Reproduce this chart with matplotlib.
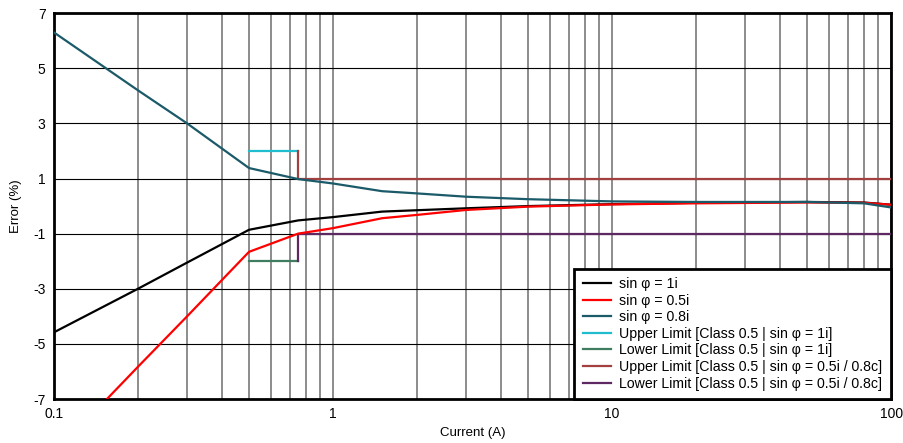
import numpy as np
import matplotlib.pyplot as plt
from matplotlib.ticker import FixedLocator, NullFormatter

plt.rcParams['font.family'] = ['Liberation Sans', 'DejaVu Sans']
plt.rcParams['axes.unicode_minus'] = False

# current points (A)
current = [0.1, 0.2, 0.3, 0.5, 0.75, 1, 1.5, 2, 3, 5, 10, 20, 50, 80, 100]

# error (%) per series
err_1i = [-4.58, -3.0, -2.05, -0.86, -0.52, -0.40, -0.2, -0.15, -0.08, 0.0, 0.07, 0.12, 0.15, 0.13, 0.05]
err_05i = [-9.0, -5.83, -4.0, -1.66, -1.0, -0.8, -0.44, -0.32, -0.14, -0.02, 0.06, 0.1, 0.13, 0.12, 0.05]
err_08i = [6.3, 4.2, 3.0, 1.38, 0.98, 0.82, 0.54, 0.46, 0.34, 0.25, 0.17, 0.15, 0.15, 0.1, -0.05]

# limit lines
up1_x, up1_y = [0.5, 0.75], [2, 2]
lo1_x, lo1_y = [0.5, 0.75], [-2, -2]
up2_x, up2_y = [0.75, 0.75, 100], [2, 1, 1]
lo2_x, lo2_y = [0.75, 0.75, 100], [-2, -1, -1]

fig = plt.figure(figsize=(9.04, 4.43), dpi=100)
ax = fig.add_axes([0.0597, 0.0993, 0.926, 0.871])

lw = 1.6
ax.plot(current, err_1i, color='black', lw=lw, label='sin φ = 1i', zorder=5)
ax.plot(current, err_05i, color='#ff0000', lw=lw, label='sin φ = 0.5i', zorder=5)
ax.plot(current, err_08i, color='#1b5a69', lw=lw, label='sin φ = 0.8i', zorder=5)
ax.plot(up1_x, up1_y, color='#1fbdcd', lw=lw, label='Upper Limit [Class 0.5 | sin φ = 1i]', zorder=4)
ax.plot(lo1_x, lo1_y, color='#3f7d5e', lw=lw, label='Lower Limit [Class 0.5 | sin φ = 1i]', zorder=4)
ax.plot(up2_x, up2_y, color='#a3403f', lw=lw, label='Upper Limit [Class 0.5 | sin φ = 0.5i / 0.8c]', zorder=4)
ax.plot(lo2_x, lo2_y, color='#5e2862', lw=lw, label='Lower Limit [Class 0.5 | sin φ = 0.5i / 0.8c]', zorder=4)

ax.set_xscale('log')
ax.set_xlim(0.1, 100)
ax.set_ylim(-7, 7)
ax.set_xticks([0.1, 1, 10, 100])
ax.set_xticklabels(['0.1', '1', '10', '100'])
ax.xaxis.set_minor_locator(FixedLocator([m * d for d in [0.1, 1, 10] for m in range(2, 10)]))
ax.xaxis.set_minor_formatter(NullFormatter())
ax.set_yticks([-7, -5, -3, -1, 1, 3, 5, 7])
ax.tick_params(which='both', length=0, labelsize=10, pad=6)

ax.grid(True, axis='x', which='both', color='#6e6e6e', lw=1.1)
ax.grid(True, axis='y', which='major', color='black', lw=0.8)
ax.set_axisbelow(True)
for s in ax.spines.values():
    s.set_linewidth(2)

ax.set_xlabel('Current (A)', fontsize=9.5, labelpad=4)
ax.set_ylabel('Error (%)', fontsize=9.5, labelpad=8)

leg = ax.legend(loc='lower right', fontsize=10.2, frameon=True, fancybox=False,
                borderaxespad=0, handlelength=2.0, handletextpad=0.6,
                labelspacing=0.18, borderpad=0.6)
leg.get_frame().set_edgecolor('black')
leg.get_frame().set_linewidth(2)
leg.get_frame().set_alpha(1)
leg.set_zorder(10)

fig.savefig('out.png', dpi=100)
